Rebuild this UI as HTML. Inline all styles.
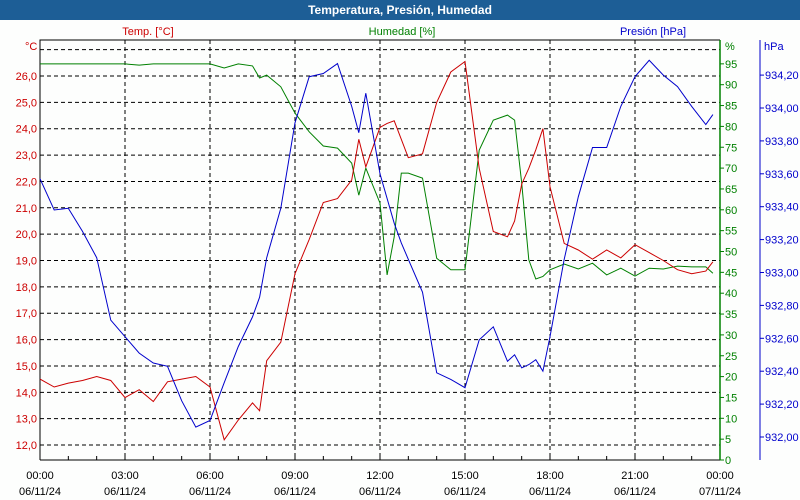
<!DOCTYPE html>
<html><head><meta charset="utf-8"><style>
body{margin:0;background:#fff;}
#wrap{width:800px;height:500px;position:relative;overflow:hidden;background:#fdfefd;font-family:"Liberation Sans",sans-serif;}
#title{position:absolute;left:0;top:0;width:800px;height:20px;background:#1d5e96;color:#fff;font-weight:bold;font-size:12px;text-align:center;line-height:20px;}
svg text{font-family:"Liberation Sans",sans-serif;font-size:11px;}
</style></head><body>
<div id="wrap">
<div id="title">Temperatura, Presión, Humedad</div>
<svg id="chart" width="800" height="500" style="position:absolute;left:0;top:0"></svg>
</div>
<script>
const hours=[0,0.5,1,1.5,2,2.5,3,3.5,4,4.5,5,5.5,6,6.5,7,7.5,7.75,8,8.5,9,9.5,10,10.5,11,11.25,11.5,12,12.25,12.5,12.75,13,13.5,14,14.5,15,15.5,16,16.5,16.75,17,17.25,17.5,17.75,18,18.5,19,19.5,20,20.5,21,21.5,22,22.5,23,23.5,23.75];
const temp=[14.5,14.2,14.35,14.45,14.6,14.45,13.8,14.1,13.65,14.4,14.5,14.6,14.2,12.2,12.95,13.6,13.3,15.2,15.9,18.5,19.8,21.2,21.35,22.05,23.6,22.55,24.05,24.2,24.3,23.6,22.9,23.05,25.0,26.15,26.55,22.5,20.1,19.9,20.5,21.9,22.5,23.2,24.0,21.8,19.65,19.4,19.05,19.4,19.1,19.6,19.3,19.0,18.65,18.5,18.6,18.95];
const hum=[95,95,95,95,95,95,95,94.7,95,95,95,95,95,94,95,94.5,91.6,92.3,89.5,83.2,78.7,75.3,74.8,71.2,63.5,70.0,61.6,44.4,53.5,68.8,68.8,67.6,48.4,45.6,45.6,74.3,81.5,82.7,81.5,66.4,48,43.4,44,45.6,47,45.8,47.2,44.4,46,44.1,46,45.8,46.5,46.3,46.3,44.8];
const pres=[933.57,933.38,933.39,933.25,933.09,932.71,932.61,932.51,932.45,932.43,932.22,932.06,932.10,932.33,932.55,932.73,932.85,933.09,933.39,933.91,934.19,934.21,934.27,934.01,933.85,934.09,933.60,933.45,933.30,933.18,933.08,932.88,932.39,932.35,932.30,932.59,932.67,932.46,932.50,932.42,932.44,932.47,932.40,932.61,933.08,933.46,933.76,933.76,934.01,934.19,934.29,934.20,934.13,934.01,933.90,933.96];
const tempTicks=[12,13,14,15,16,17,18,19,20,21,22,23,24,25,26];
const humTicks=[0,5,10,15,20,25,30,35,40,45,50,55,60,65,70,75,80,85,90,95];
const presTicks=[932.0,932.2,932.4,932.6,932.8,933.0,933.2,933.4,933.6,933.8,934.0,934.2];
const timeLabels=[["00:00","06/11/24"],["03:00","06/11/24"],["06:00","06/11/24"],["09:00","06/11/24"],["12:00","06/11/24"],["15:00","06/11/24"],["18:00","06/11/24"],["21:00","06/11/24"],["00:00","07/11/24"]];

const L=40,R=720,T=40,B=460;
const xOf=h=>L+h*(R-L)/24;
const yT=v=>76+(26-v)*26.36;
const yH=v=>460-v*4.17;
const yP=v=>437-(v-932)*164.5;
const svg=document.getElementById('chart');
const NS='http://www.w3.org/2000/svg';
function mk(tag,a,parent){const e=document.createElementNS(NS,tag);for(const k in a)e.setAttribute(k,a[k]);(parent||svg).appendChild(e);return e;}
function txt(s,x,y,fill,anchor){const e=mk('text',{x:x,y:y,fill:fill,'text-anchor':anchor||'start'});e.textContent=s;return e;}
const fmt=v=>v.toFixed(1).replace('.',',');
for(const t of [12,13,14,15,16,17,18,19,20,21,22,23,24,25,26,27]){
 const g=mk('line',{x1:L,x2:R,y1:yT(t),y2:yT(t),stroke:'#000','stroke-dasharray':'4,3','stroke-width':1});
 
 
}
for(let h=3;h<24;h+=3){
 const g=mk('line',{x1:xOf(h),x2:xOf(h),y1:T,y2:B,stroke:'#000','stroke-dasharray':'4,3'});
 
 
}
let a=mk('path',{d:`M${L} ${B}V${T}H${R}`,stroke:'#000',fill:'none'});


a=mk('line',{x1:L,x2:R,y1:B,y2:B,stroke:'#000'});


for(let h=1;h<24;h++){const t=mk('line',{x1:xOf(h),x2:xOf(h),y1:B-4,y2:B,stroke:'#000'});}
a=mk('line',{x1:R,x2:R,y1:T,y2:B,stroke:'#008000','stroke-width':1.5});


a=mk('line',{x1:760,x2:760,y1:T,y2:B,stroke:'#0000cc'});


tempTicks.forEach(v=>{const e=txt(fmt(v),37,yT(v)+4,'#cc0000','end');});
humTicks.forEach(v=>{mk('line',{x1:R,x2:R+4,y1:yH(v),y2:yH(v),stroke:'#008000'});const e=txt(String(v),725,yH(v)+4,'#008000');});
presTicks.forEach(v=>{mk('line',{x1:760,x2:764,y1:yP(v),y2:yP(v),stroke:'#0000cc'});const e=txt(v.toFixed(2).replace('.',','),765,yP(v)+4,'#0000cc');});
timeLabels.forEach((l,i)=>{const x=xOf(i*3);let e=txt(l[0],x,479,'#000','middle');e=txt(l[1],x,495,'#000','middle');});
let hd=txt('°C',25,50,'#cc0000');
hd=txt('Temp. [°C]',148,35,'#cc0000','middle');
hd=txt('Humedad [%]',402,35,'#008000','middle');
hd=txt('Presión [hPa]',653,35,'#0000cc','middle');
hd=txt('%',725,50,'#008000');
hd=txt('hPa',764,50,'#0000cc');
function line(vals,yf,color,name){
 const d=vals.map((v,i)=>(i?'L':'M')+xOf(hours[i]).toFixed(1)+' '+yf(v).toFixed(1)).join('');
 const p=mk('path',{d:d,stroke:color,fill:'none','stroke-width':1});
 
 
}
line(hum,yH,'#008000','humidity-line');
line(temp,yT,'#cc0000','temperature-line');
line(pres,yP,'#0000cc','pressure-line');
</script>
</body></html>
